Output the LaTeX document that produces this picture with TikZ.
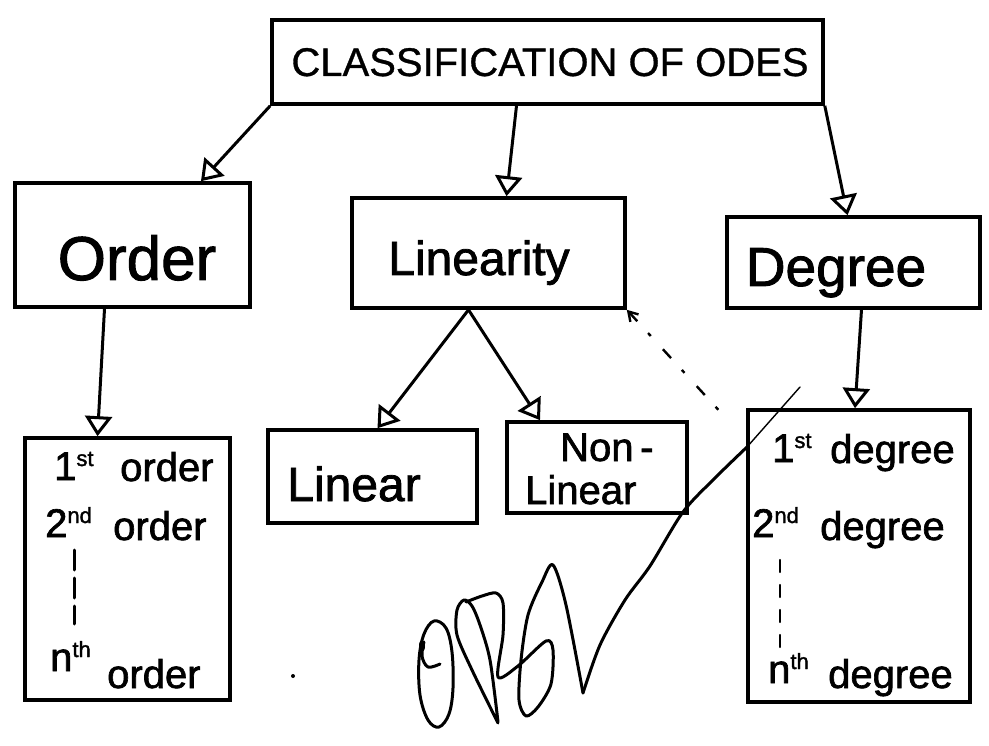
\documentclass[tikz,border=0pt]{standalone}
\usepackage{fontspec}
\setmainfont[FakeBold=1.6]{Liberation Sans}
\newfontfamily\thinfont[FakeBold=0.8]{Liberation Sans}
\usetikzlibrary{arrows.meta,calc}
\newcommand\myfs[1]{\fontsize{#1}{#1}\selectfont}
\newcommand\mysup[1]{\raisebox{14pt}{\myfs{22}#1}}
\begin{document}
\begin{tikzpicture}[x=1pt,y=-1pt,
  box/.style={draw,line width=3.6pt,inner sep=0pt},
  txt/.style={inner sep=0pt,anchor=base},
  ltxt/.style={inner sep=0pt,anchor=base west,font={\myfs{40}}},
  conn/.style={line width=3pt,-{Triangle[open,length=20pt,width=27pt]}},
  ink/.style={line width=3pt,line cap=round,line join=round}]
\useasboundingbox (0,0) rectangle (989,746);

% boxes
\node[box,minimum width=551pt,minimum height=84pt] (title) at (547.5,62) {};
\node[box,minimum width=235pt,minimum height=124pt] (order) at (132.5,245) {};
\node[box,minimum width=273pt,minimum height=110pt] (lin) at (488.5,253) {};
\node[box,minimum width=253pt,minimum height=91pt] (deg) at (853.5,262.5) {};
\node[box,minimum width=205pt,minimum height=262pt] (olist) at (127.5,569) {};
\node[box,minimum width=209pt,minimum height=93pt] (linear) at (372.5,476.5) {};
\node[box,minimum width=180pt,minimum height=91pt] (nonlin) at (597,467.5) {};
\node[box,minimum width=222pt,minimum height=292pt] (dlist) at (859,556) {};

% box texts
\node[txt,font={\thinfont\myfs{40}}] (titletxt) at (550,76) {CLASSIFICATION OF ODES};
\node[txt,font={\myfs{62}}] (ordertxt) at (137,280) {Order};
\node[txt,font={\myfs{48}}] (lintxt) at (479,275) {Linearity};
\node[txt,font={\myfs{55}}] (degtxt) at (836,286) {Degree};
\node[txt,font={\myfs{48}}] (lineartxt) at (354,501) {Linear};
\node[ltxt] (nontxt) at (560,461) {Non\,-};
\node[ltxt] (nonlintxt) at (525,504) {Linear};

% order list
\node[ltxt] (o1) at (54,480) {1\mysup{st}};
\node[ltxt] (o1w) at (120,481) {order};
\node[ltxt] (o2) at (45,537) {2\mysup{nd}};
\node[ltxt] (o2w) at (113,540) {order};
\node[ltxt] (on) at (50,671) {n\mysup{th}};
\node[ltxt] (onw) at (107,688) {order};
\coordinate (odtop) at (74,550);
\coordinate (odbot) at (74,624);
\draw[ink,dash pattern=on 20pt off 8pt] (odtop) -- (odbot);

% degree list
\node[ltxt] (d1) at (772,462) {1\mysup{st}};
\node[ltxt] (d1w) at (830,463) {degree};
\node[ltxt] (d2) at (752,537) {2\mysup{nd}};
\node[ltxt] (d2w) at (820,540) {degree};
\node[ltxt] (dn) at (768,683) {n\mysup{th}};
\node[ltxt] (dnw) at (828,688) {degree};
\coordinate (ddtop) at (780,560);
\coordinate (ddbot) at (780,648);
\draw[ink,line width=2.4pt,dash pattern=on 12pt off 13pt] (ddtop) -- (ddbot);

% connectors
\draw[conn] (title.south west) -- ($(order.north west)!0.787!(order.north east)$);
\draw[conn] ([xshift=-31pt]title.south) -- ([xshift=18pt]lin.north);
\draw[conn] (title.south east) -- ([xshift=-6pt]deg.north);
\draw[conn] ([xshift=-28pt]order.south) -- ([xshift=-30pt]olist.north);
\coordinate (lfork) at ([xshift=-20pt]lin.south);
\draw[conn] (lfork) -- ([xshift=5pt]linear.north);
\draw[conn] (lfork) -- ([xshift=-57pt]nonlin.north);
\draw[conn] ([xshift=8pt]deg.south) -- ([xshift=-4pt]dlist.north);

% dotted stray line from Linearity corner
\coordinate (dotend) at (724,416);
\draw[line width=2.4pt,dash pattern=on 12pt off 16pt on 4pt off 18pt,
      {Straight Barb[length=9pt,width=11pt]}-] (lin.south east) -- (dotend);

% signature
\draw[ink] plot[smooth cycle,tension=0.6] coordinates {(434,621) (424,634) (419,660) (420,695) (428,720) (439,727) (449,714) (453,688) (452,652) (446,628)};
\draw[ink] plot[smooth,tension=0.6] coordinates {(424,642) (422,656) (428,667) (440,664)};
\fill (422,646) ellipse (3pt and 6pt);
\draw[ink] plot[smooth,tension=0.5] coordinates {(498,723) (472,670) (457,635) (457,610) (464,600) (472,606) (480,625) (490,660) (498,722)};
\draw[ink] plot[smooth,tension=0.5] coordinates {(466,602) (482,596) (496,593) (503,603) (503,635) (498,677) (518,666) (546,641) (553,650) (551,684) (538,707) (526,716) (519,700) (521,660) (528,615) (542,582) (553,565) (566,605) (583,693)};
\coordinate (sigtip) at (583,693);
\coordinate (sigmid) at (747,447);
\coordinate (sigend) at (800,387);
\draw[ink] plot[smooth,tension=0.5] coordinates {(583,693) (600,645) (625,600) (650,566) (683,512) (715,478) (747,447)};
\draw[line width=1.4pt,line cap=round] (sigmid) -- (sigend);
\fill (293,676) circle (2pt);
\end{tikzpicture}
\end{document}
